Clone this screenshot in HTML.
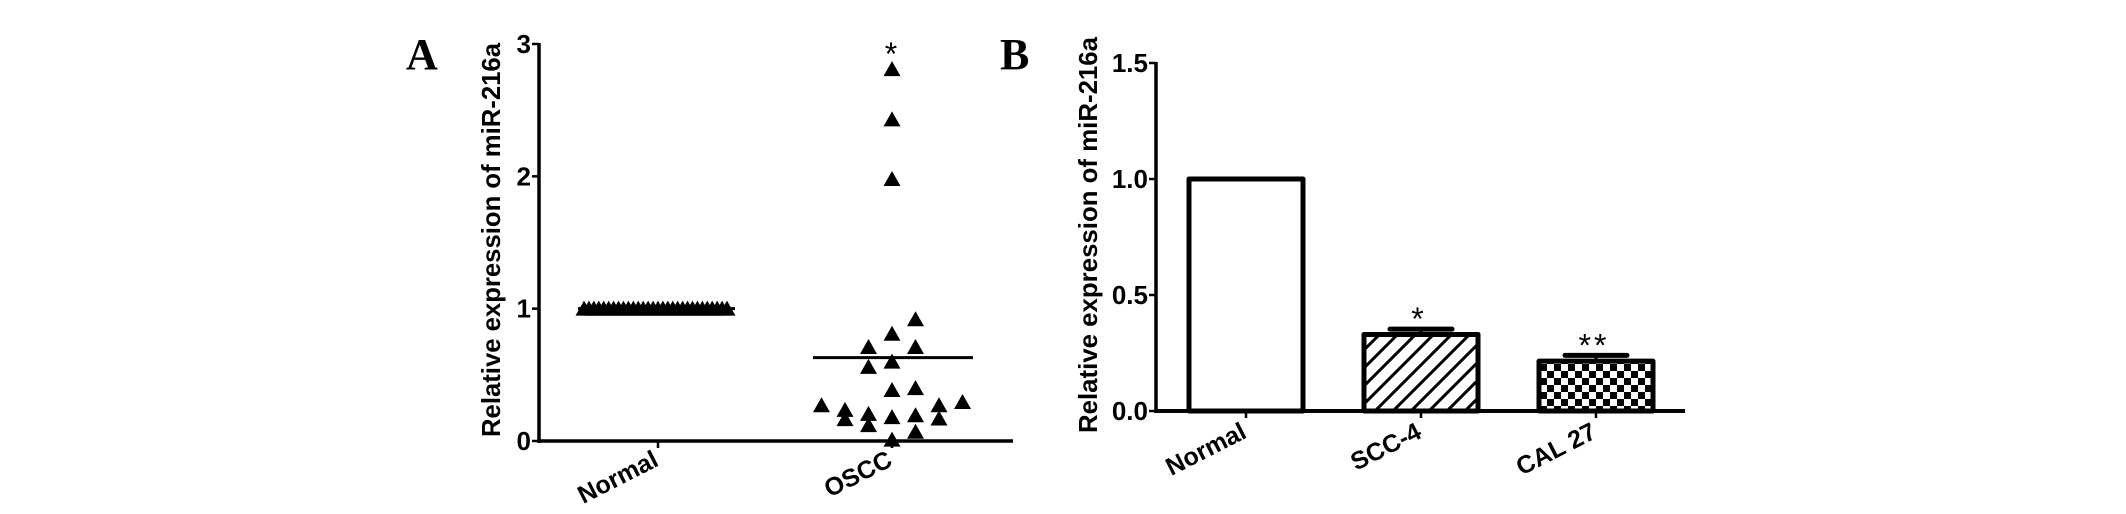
<!DOCTYPE html>
<html><head><meta charset="utf-8">
<style>
html,body{margin:0;padding:0;background:#fff;}
svg{display:block;}
text{font-family:"Liberation Sans",Arial,sans-serif;fill:#000;}
</style></head>
<body>
<svg id="fig" width="2126" height="514" viewBox="0 0 2126 514" xmlns="http://www.w3.org/2000/svg">
<defs>
<pattern id="hatch" patternUnits="userSpaceOnUse" width="18" height="18" patternTransform="translate(4,0)">
<path d="M-2,20 L20,-2 M-11,11 L2,-2 M16,20 L20,16" stroke="#000" stroke-width="3"/>
</pattern>
<pattern id="checker" patternUnits="userSpaceOnUse" width="14" height="14" x="0" y="0">
<rect width="14" height="14" fill="#fff"/>
<rect x="0" y="0" width="7" height="7" fill="#000"/>
<rect x="7" y="7" width="7" height="7" fill="#000"/>
</pattern>
</defs>
<g id="panelA"></g>
<g id="panelB"></g>
</svg>
<script>
// ---- Panel A data ----
const aCategories = ["Normal", "OSCC"];
const aTicks = [0, 1, 2, 3];
const normalValues = [1,1,1,1,1,1,1,1,1,1,1,1,1,1,1,1,1,1,1,1,1,1,1,1,1,1,1,1,1,1];
const osccValues = [2.81,2.43,1.98,0.92,0.81,0.71,0.71,0.60,0.56,0.40,0.385,0.295,0.27,0.27,0.235,0.205,0.195,0.18,0.17,0.165,0.12,0.07,0.01];
const osccJitter = [0,0,0,1,0,-1,1,0,-1,1,0,3,-3,2,-2,-1,1,0,2,-2,-1,1,0];
// ---- Panel B data ----
const bCategories = ["Normal", "SCC-4", "CAL 27"];
const bValues = [1.0, 0.33, 0.215];
const bErrors = [0, 0.023, 0.025];
const bSignif = ["", "*", "**"];
const bTicks = ["0.0", "0.5", "1.0", "1.5"];

const NS = "http://www.w3.org/2000/svg";
function mk(parent, tag, attrs, txt) {
  const e = document.createElementNS(NS, tag);
  for (const k in attrs) e.setAttribute(k, attrs[k]);
  if (txt !== undefined) e.textContent = txt;
  parent.appendChild(e);
  return e;
}

// ===== Panel A =====
const A = document.getElementById("panelA");
const aX0 = 539, aX1 = 1013, aY0 = 441, aYmax = 44, aVmax = 3;
const aY = v => aY0 - (v / aVmax) * (aY0 - aYmax);
const aCatX = i => 658 + i * 234;

let t = mk(A, "text", {x: 406, y: 69, "font-size": 44, "font-weight": "bold", style: "font-family:'Liberation Serif',serif"}, "A");



let ax = mk(A, "line", {x1: aX0, y1: aYmax - 1, x2: aX0, y2: aY0 + 2, stroke: "#000", "stroke-width": 3.5});


ax = mk(A, "line", {x1: aX0 - 1, y1: aY0, x2: aX1, y2: aY0, stroke: "#000", "stroke-width": 3.5});



aTicks.forEach(v => {
  const tk = mk(A, "line", {x1: aX0 - 7, y1: aY(v), x2: aX0, y2: aY(v), stroke: "#000", "stroke-width": 2.5});
  
  
  const lb = mk(A, "text", {x: aX0 - 8, y: aY(v) + 9, "font-size": 26, "font-weight": "bold", "text-anchor": "end"}, String(v));
  
  
});

t = mk(A, "text", {x: 0, y: 0, "font-size": 26, "font-weight": "bold", "text-anchor": "middle", textLength: 394, lengthAdjust: "spacingAndGlyphs", transform: "translate(500,240) rotate(-90)"}, "Relative expression of miR-216a");



aCategories.forEach((c, i) => {
  const tk = mk(A, "line", {x1: aCatX(i), y1: aY0, x2: aCatX(i), y2: aY0 + 7, stroke: "#000", "stroke-width": 2.5});
  
  
  const lb = mk(A, "text", {x: 0, y: 0, "font-size": 25, "font-weight": "bold", "text-anchor": "end", transform: `translate(${aCatX(i) + 2},${aY0 + 24}) rotate(-27)`}, c);
  
  
});

function tri(parent, cx, cy, name) {
  const p = mk(parent, "path", {d: `M${cx},${cy - 8} L${cx + 8.5},${cy + 7} L${cx - 8.5},${cy + 7} Z`, fill: "#000"});
  
  
}
normalValues.forEach((v, i) => {
  const cx = aCatX(0) - 74 + i * (143 / (normalValues.length - 1));
  tri(A, cx, aY(v), 'normal-point');
});
osccValues.forEach((v, i) => {
  tri(A, aCatX(1) + osccJitter[i] * 23.5, aY(v), 'oscc-point');
});
const mean = a => a.reduce((s, x) => s + x, 0) / a.length;
let ml = mk(A, "line", {x1: aCatX(0) - 80, x2: aCatX(0) + 77, y1: aY(mean(normalValues)), y2: aY(mean(normalValues)), stroke: "#000", "stroke-width": 3});


ml = mk(A, "line", {x1: aCatX(1) - 79, x2: aCatX(1) + 81, y1: aY(mean(osccValues)), y2: aY(mean(osccValues)), stroke: "#000", "stroke-width": 3});


t = mk(A, "text", {x: aCatX(1) - 1, y: aY(Math.max(...osccValues)) - 4, "font-size": 32, "text-anchor": "middle"}, "*");



// ===== Panel B =====
const B = document.getElementById("panelB");
const bX0 = 1156, bX1 = 1685, bY0 = 411, bYmax = 63, bVmax = 1.5;
const bY = v => bY0 - (v / bVmax) * (bY0 - bYmax);
const bCatX = i => 1246 + i * 175;
const bW = 114;
const fills = ["#fff", "url(#hatch)", "url(#checker)"];

t = mk(B, "text", {x: 1000, y: 69, "font-size": 44, "font-weight": "bold", style: "font-family:'Liberation Serif',serif"}, "B");



bValues.forEach((v, i) => {
  const cx = bCatX(i);
  if (bErrors[i] > 0) {
    const e1 = mk(B, "line", {x1: cx, x2: cx, y1: bY(v), y2: bY(v + bErrors[i]), stroke: "#000", "stroke-width": 3});
    
    
    const e2 = mk(B, "line", {x1: cx - 31, x2: cx + 31, y1: bY(v + bErrors[i]), y2: bY(v + bErrors[i]), stroke: "#000", "stroke-width": 5, "stroke-linecap": "round"});
    
    
  }
  const r = mk(B, "rect", {x: cx - bW / 2, y: bY(v), width: bW, height: bY0 - bY(v), fill: fills[i], stroke: "#000", "stroke-width": 5, "stroke-linejoin": "round"});
  
  
  if (bSignif[i]) {
    const s = mk(B, "text", {x: cx - 2, y: bY(v + bErrors[i]) + 1, "font-size": 32, "text-anchor": "middle", "letter-spacing": 3}, bSignif[i]);
    
    
  }
});

ax = mk(B, "line", {x1: bX0, y1: bYmax - 1, x2: bX0, y2: bY0 + 2, stroke: "#000", "stroke-width": 3.5});


ax = mk(B, "line", {x1: bX0 - 1, y1: bY0, x2: bX1, y2: bY0, stroke: "#000", "stroke-width": 4});



bTicks.forEach(s => {
  const v = parseFloat(s);
  const tk = mk(B, "line", {x1: bX0 - 7, y1: bY(v), x2: bX0, y2: bY(v), stroke: "#000", "stroke-width": 2.5});
  
  
  const lb = mk(B, "text", {x: bX0 - 8, y: bY(v) + 9, "font-size": 26, "font-weight": "bold", "text-anchor": "end"}, s);
  
  
});

t = mk(B, "text", {x: 0, y: 0, "font-size": 26, "font-weight": "bold", "text-anchor": "middle", textLength: 396, lengthAdjust: "spacingAndGlyphs", transform: "translate(1097,235) rotate(-90)"}, "Relative expression of miR-216a");



bCategories.forEach((c, i) => {
  const tk = mk(B, "line", {x1: bCatX(i), y1: bY0, x2: bCatX(i), y2: bY0 + 7, stroke: "#000", "stroke-width": 2.5});
  
  
  const lb = mk(B, "text", {x: 0, y: 0, "font-size": 25, "font-weight": "bold", "text-anchor": "end", transform: `translate(${bCatX(i) + 2},${bY0 + 26}) rotate(-27)`}, c);
  
  
});
</script>
</body></html>
